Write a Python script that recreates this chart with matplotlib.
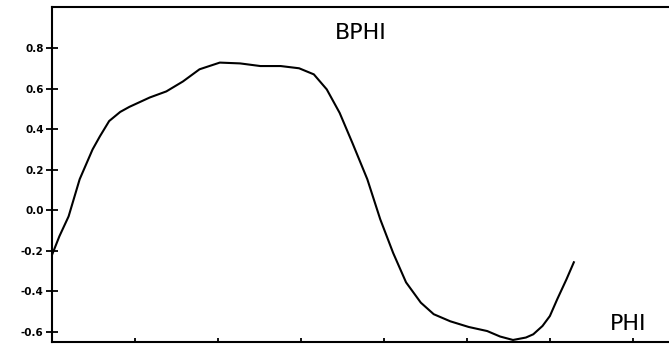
import matplotlib
matplotlib.use("Agg")
import matplotlib.pyplot as plt
import numpy as np

# valores (PHI en grados)
phi = [0, 4, 9, 15, 22, 26, 31, 37, 42, 53, 62, 71, 80, 91, 102, 113, 124,
       134, 142, 149, 156, 163, 171, 178, 185, 192, 200, 207, 216, 226, 236,
       243, 250, 257, 261, 266, 270, 274, 279, 283]
bphi = [-0.22, -0.128, -0.03, 0.153, 0.30, 0.365, 0.44, 0.485, 0.51, 0.556,
        0.586, 0.635, 0.695, 0.728, 0.724, 0.711, 0.711, 0.70, 0.67, 0.596,
        0.48, 0.33, 0.153, -0.044, -0.21, -0.355, -0.455, -0.512, -0.547,
        -0.575, -0.595, -0.622, -0.639, -0.627, -0.611, -0.57, -0.521,
        -0.438, -0.34, -0.256]

yticks = [-0.6, -0.4, -0.2, 0.0, 0.2, 0.4, 0.6, 0.8]
xticks = [0, 45, 90, 135, 180, 225, 270, 315]

fig = plt.figure(figsize=(6.69, 3.47), dpi=100)
ax = fig.add_axes([52 / 669, 5 / 347, 1 - 52 / 669, 335 / 347])

ax.plot(phi, bphi, color="black", lw=1.5)

ax.set_xlim(0, 334.6)
ax.set_ylim(-0.649, 1.002)
ax.set_yticks(yticks)
ax.set_yticklabels([f"{v:.1f}" for v in yticks], fontsize=7.5, fontweight="bold")
ax.set_xticks(xticks)
ax.set_xticklabels([])
ax.tick_params(axis="y", direction="inout", length=8, width=1.3, pad=2)
ax.tick_params(axis="x", direction="in", length=3, width=1.3)

ax.spines["right"].set_visible(False)
for s in ["left", "top", "bottom"]:
    ax.spines[s].set_linewidth(1.5)

ax.text(0.5, 0.922, "BPHI", transform=ax.transAxes, ha="center", va="center", fontsize=16)
ax.text(0.934, 0.054, "PHI", transform=ax.transAxes, ha="center", va="center", fontsize=16)

fig.savefig("out.png", dpi=100)
